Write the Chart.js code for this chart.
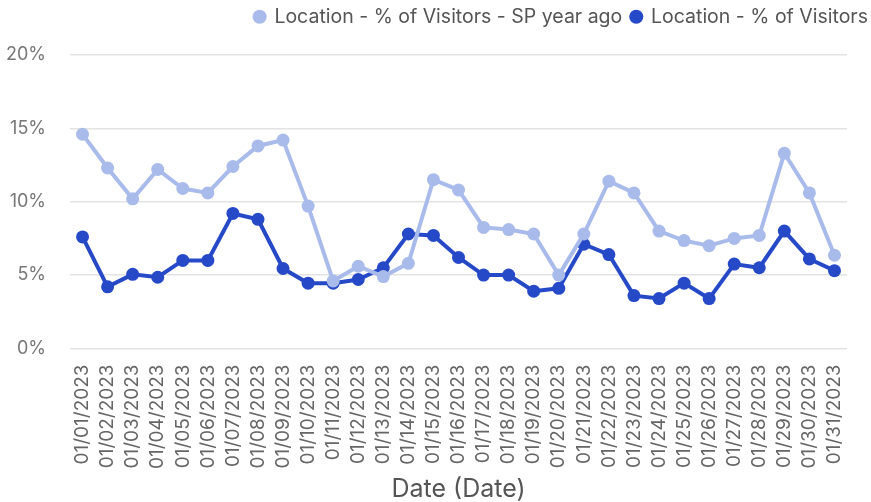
<!DOCTYPE html>
<html>
<head>
<meta charset="utf-8">
<script src="https://cdn.jsdelivr.net/npm/chart.js@4"></script>
<style>
  html, body { margin: 0; padding: 0; background: #fff; }
  #wrap { width: 871px; height: 502px; }
</style>
</head>
<body>
<div id="wrap"><canvas id="visitorsChart" width="871" height="502"></canvas></div>
<script>
const dates = [];
for (let d = 1; d <= 31; d++) {
    dates.push('01/' + String(d).padStart(2, '0') + '/2023');
}

// share of visitors, percent
const visitorsYearAgo = [14.6, 12.3, 10.2, 12.2, 10.9, 10.6, 12.4, 13.8, 14.2, 9.7,
    4.6, 5.6, 4.9, 5.8, 11.5, 10.8, 8.25, 8.1, 7.8, 5.0,
    7.8, 11.4, 10.6, 8.0, 7.35, 7.0, 7.5, 7.7, 13.3, 10.6, 6.35];
const visitors = [7.6, 4.2, 5.05, 4.85, 6.0, 6.0, 9.2, 8.8, 5.45, 4.45,
    4.45, 4.7, 5.5, 7.8, 7.7, 6.2, 5.0, 5.0, 3.9, 4.1,
    7.1, 6.4, 3.6, 3.4, 4.45, 3.4, 5.75, 5.5, 8.0, 6.1, 5.3];

const yTicks = [0, 5, 10, 15, 20];

const lightBlue = '#a9bbea';
const darkBlue = '#2649c8';
const fontFamily = 'Inter, "Open Sans", sans-serif';

// taller legend box so the plot starts lower
const legendHeight = {
    id: 'legendHeight',
    beforeInit(chart) {
        const fit = chart.legend.fit;
        chart.legend.fit = function () {
            fit.call(this);
            this.height = 57;
        };
    }
};

const ctx = document.getElementById('visitorsChart').getContext('2d');
const visitorsChart = new Chart(ctx, {
    type: 'line',
    data: {
        labels: dates,
        datasets: [{
            label: 'Location - % of Visitors - SP year ago',
            data: visitorsYearAgo,
            borderColor: lightBlue,
            backgroundColor: lightBlue,
            borderWidth: 4,
            pointRadius: 6.5,
            pointBorderWidth: 0,
            tension: 0
        }, {
            label: 'Location - % of Visitors',
            data: visitors,
            borderColor: darkBlue,
            backgroundColor: darkBlue,
            borderWidth: 4,
            pointRadius: 6.5,
            pointBorderWidth: 0,
            tension: 0
        }]
    },
    plugins: [legendHeight],
    options: {
        responsive: false,
        animation: false,
        layout: { padding: { left: 6, right: -6, top: -2, bottom: 0 } },
        plugins: {
            legend: {
                position: 'top',
                align: 'end',
                labels: {
                    usePointStyle: true,
                    pointStyle: 'circle',
                    boxWidth: 10,
                    boxHeight: 10,
                    padding: 9,
                    color: '#555',
                    font: { family: fontFamily, size: 19.5 }
                }
            },
            tooltip: { enabled: false }
        },
        scales: {
            x: {
                offset: true,
                grid: { display: false },
                border: { display: false },
                afterFit: axis => {
                    axis.paddingLeft = 0;
                    axis.paddingRight = 24;
                },
                ticks: {
                    autoSkip: false,
                    minRotation: 90,
                    maxRotation: 90,
                    padding: 8,
                    color: '#666',
                    font: { family: fontFamily, size: 19 }
                },
                title: {
                    display: true,
                    text: 'Date (Date)',
                    color: '#555',
                    font: { family: fontFamily, size: 25, lineHeight: 1 },
                    padding: { top: 0, bottom: 0 }
                }
            },
            y: {
                min: 0,
                max: 20,
                afterBuildTicks: axis => {
                    axis.ticks = yTicks.map(v => ({ value: v }));
                },
                afterFit: axis => {
                    axis.width = 64;
                },
                grid: { color: '#e3e3e3', lineWidth: 1.5, drawTicks: false },
                border: { display: false },
                ticks: {
                    padding: 24,
                    color: '#777',
                    font: { family: fontFamily, size: 18 },
                    callback: v => v + '%'
                }
            }
        }
    }
});
</script>
</body>
</html>
